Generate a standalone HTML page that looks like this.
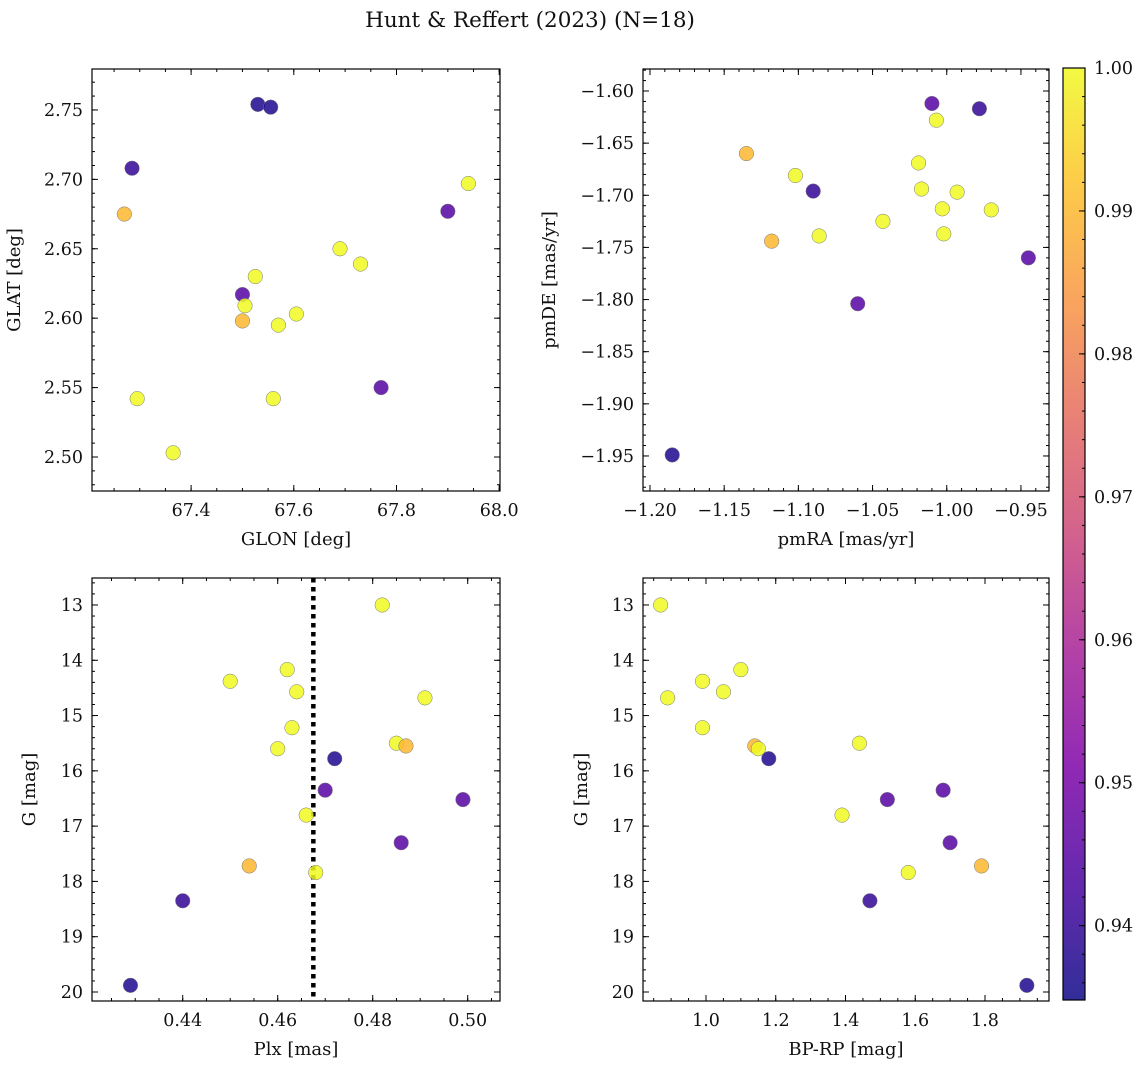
<!DOCTYPE html>
<html><head><meta charset="utf-8"><style>
html,body{margin:0;padding:0;background:#fff}
svg text{font-family:"DejaVu Serif","Liberation Serif",serif;fill:#111}
</style></head><body>
<svg id="fig" width="1148" height="1068" viewBox="0 0 1148 1068" xmlns="http://www.w3.org/2000/svg">
<defs><linearGradient id="cbg" x1="0" y1="1" x2="0" y2="0"></linearGradient></defs>
<text x="530" y="27" font-size="21.5" text-anchor="middle">Hunt &amp; Reffert (2023) (N=18)</text>
</svg>
<script>
// Panel 1: GLON / GLAT
const glon=[67.53,67.555,67.285,67.27,67.94,67.90,67.69,67.73,67.525,67.50,67.505,67.50,67.57,67.605,67.295,67.56,67.77,67.365];
const glat=[2.754,2.752,2.708,2.675,2.697,2.677,2.650,2.639,2.630,2.617,2.609,2.598,2.595,2.603,2.542,2.542,2.550,2.503];
const prob1=[0.937,0.937,0.940,0.990,1.0,0.945,1.0,1.0,1.0,0.945,1.0,0.990,1.0,1.0,1.0,1.0,0.945,1.0];
// Panel 2: pmRA / pmDE
const pmra=[-1.010,-0.978,-1.007,-1.135,-1.102,-1.090,-1.019,-1.017,-0.993,-1.003,-0.970,-1.043,-1.118,-1.086,-1.002,-0.945,-1.060,-1.185];
const pmde=[-1.612,-1.617,-1.628,-1.660,-1.681,-1.696,-1.669,-1.694,-1.697,-1.713,-1.714,-1.725,-1.744,-1.739,-1.737,-1.760,-1.804,-1.949];
const prob2=[0.945,0.940,1.0,0.990,1.0,0.940,1.0,1.0,1.0,1.0,1.0,1.0,0.990,1.0,1.0,0.945,0.945,0.937];
// Panels 3/4: Plx, BP-RP, G
const gmag=[13.0,14.17,14.38,14.57,14.68,15.22,15.50,15.55,15.60,15.78,16.35,16.52,16.80,17.30,17.72,17.84,18.35,19.88];
const plx=[0.482,0.462,0.450,0.464,0.491,0.463,0.485,0.487,0.460,0.472,0.470,0.499,0.466,0.486,0.454,0.468,0.440,0.429];
const bprp=[0.87,1.10,0.99,1.05,0.89,0.99,1.44,1.14,1.15,1.18,1.68,1.52,1.39,1.70,1.79,1.58,1.47,1.92];
const prob3=[1.0,1.0,1.0,1.0,1.0,1.0,1.0,0.990,1.0,0.937,0.945,0.945,1.0,0.945,0.990,1.0,0.940,0.937];
const plxLine=0.4675;
const cbTicks=[0.94,0.95,0.96,0.97,0.98,0.99,1.00];
const cmin=0.9348,cmax=1.0;

const NS="http://www.w3.org/2000/svg";
const svg=document.getElementById('fig');
function mk(tag,attrs,parent){const e=document.createElementNS(NS,tag);for(const k in attrs)e.setAttribute(k,attrs[k]);(parent||svg).appendChild(e);return e;}
const stops=[[0,[13,8,135]],[0.13,[75,3,161]],[0.25,[125,3,168]],[0.38,[168,34,150]],[0.5,[203,70,121]],[0.63,[229,107,93]],[0.75,[248,148,65]],[0.88,[253,195,40]],[1,[240,249,33]]];
function plasma(t){t=Math.max(0,Math.min(1,t));for(let i=1;i<stops.length;i++){if(t<=stops[i][0]){const a=stops[i-1],b=stops[i];const f=(t-a[0])/(b[0]-a[0]);const c=a[1].map((v,j)=>Math.round(v+(b[1][j]-v)*f));return `rgb(${c})`;}}}
function col(p){return plasma((p-cmin)/(cmax-cmin));}

function panel(name,box,xd,yd,xmaj,xmin,ymaj,ymin,xfmt,yfmt,xlab,ylab,xs,ys,ps,yoff,extra){
  const [L,T,R,B]=box;
  const g=mk('g',{});
  const X=v=>L+(v-xd[0])/(xd[1]-xd[0])*(R-L);
  const Y=v=>T+(v-yd[0])/(yd[1]-yd[0])*(B-T);
  const eps=1e-9;
  function ticks(step,lo,hi){const a=[];const s=Math.ceil(Math.min(lo,hi)/step-eps);for(let k=s;k*step<=Math.max(lo,hi)+eps;k++)a.push(+(k*step).toFixed(6));return a;}
  ticks(xmin,xd[0],xd[1]).forEach(v=>{const x=X(v);mk('line',{x1:x,x2:x,y1:B,y2:B-3,stroke:'#000','stroke-width':1},g);mk('line',{x1:x,x2:x,y1:T,y2:T+3,stroke:'#000','stroke-width':1},g);});
  ticks(ymin,yd[0],yd[1]).forEach(v=>{const y=Y(v);mk('line',{x1:L,x2:L+3,y1:y,y2:y,stroke:'#000','stroke-width':1},g);mk('line',{x1:R,x2:R-3,y1:y,y2:y,stroke:'#000','stroke-width':1},g);});
  ticks(xmaj,xd[0],xd[1]).forEach(v=>{const x=X(v);mk('line',{x1:x,x2:x,y1:B,y2:B-6,stroke:'#000','stroke-width':1},g);mk('line',{x1:x,x2:x,y1:T,y2:T+6,stroke:'#000','stroke-width':1},g);
    const t=mk('text',{x:x,y:B+25,'font-size':17.5,'text-anchor':'middle'},g);t.textContent=xfmt(v);});
  ticks(ymaj,yd[0],yd[1]).forEach(v=>{const y=Y(v);mk('line',{x1:L,x2:L+6,y1:y,y2:y,stroke:'#000','stroke-width':1},g);mk('line',{x1:R,x2:R-6,y1:y,y2:y,stroke:'#000','stroke-width':1},g);
    const t=mk('text',{x:L-9,y:y+6,'font-size':17.5,'text-anchor':'end'},g);t.textContent=yfmt(v);});
  if(extra)extra(g,X,Y);
  xs.forEach((v,i)=>{const c=mk('circle',{cx:X(v),cy:Y(ys[i]),r:7.3,fill:col(ps[i]),'fill-opacity':0.85,stroke:'#777','stroke-width':0.5},g);
    });
  mk('rect',{x:L,y:T,width:R-L,height:B-T,fill:'none',stroke:'#000','stroke-width':1.2},g);
  const xl=mk('text',{x:(L+R)/2,y:B+54,'font-size':18,'text-anchor':'middle'},g);xl.textContent=xlab;
  const yx=L-yoff,yy=(T+B)/2;
  const yl=mk('text',{x:yx,y:yy,'font-size':18,'text-anchor':'middle',transform:`rotate(-90 ${yx} ${yy})`},g);yl.textContent=ylab;
}
const f=n=>v=>v.toFixed(n).replace('-','\u2212');
panel('glon-glat-panel',[92,69,500,491],[67.207,68.0016],[2.7795,2.4755],0.2,0.05,0.05,0.01,f(1),f(2),'GLON [deg]','GLAT [deg]',glon,glat,prob1,72);
panel('pm-panel',[643,69,1049,491],[-1.2047,-0.9311],[-1.5789,-1.9836],0.05,0.01,0.05,0.01,f(2),f(2),'pmRA [mas/yr]','pmDE [mas/yr]',pmra,pmde,prob2,88);
panel('plx-g-panel',[92,578,500,1001],[0.4209,0.5068],[12.512,20.163],0.02,0.005,1,0.2,f(2),f(0),'Plx [mas]','G [mag]',plx,gmag,prob3,57,(g,X,Y)=>{
  const l=mk('line',{x1:X(plxLine),x2:X(plxLine),y1:578,y2:1001,stroke:'#000','stroke-width':4.5,'stroke-dasharray':'4.5,4.5'},g);});
panel('cmd-panel',[643,578,1049,1001],[0.8194,1.9835],[12.512,20.163],0.2,0.05,1,0.2,f(1),f(0),'BP-RP [mag]','G [mag]',bprp,gmag,prob3,56);

// colorbar
const grad=document.getElementById('cbg');
for(let i=0;i<=16;i++){mk('stop',{offset:i/16,'stop-color':plasma(i/16),'stop-opacity':0.85},grad);}
const cb=mk('g',{});
const cL=1063,cR=1085,cT=68,cB=1000;
mk('rect',{x:cL,y:cT,width:cR-cL,height:cB-cT,fill:'url(#cbg)',stroke:'#000','stroke-width':1.2},cb);
const CY=v=>cB-(v-cmin)/(cmax-cmin)*(cB-cT);
for(let k=0;;k++){const v=0.936+k*0.002;if(v>cmax+1e-9)break;mk('line',{x1:cR,x2:cR-3,y1:CY(v),y2:CY(v),stroke:'#000'},cb);}
cbTicks.forEach(v=>{const y=CY(v);mk('line',{x1:cR,x2:cR-6,y1:y,y2:y,stroke:'#000'},cb);
  const t=mk('text',{x:cR+9,y:y+6,'font-size':17.5},cb);t.textContent=v.toFixed(2);});
</script>
</body></html>
